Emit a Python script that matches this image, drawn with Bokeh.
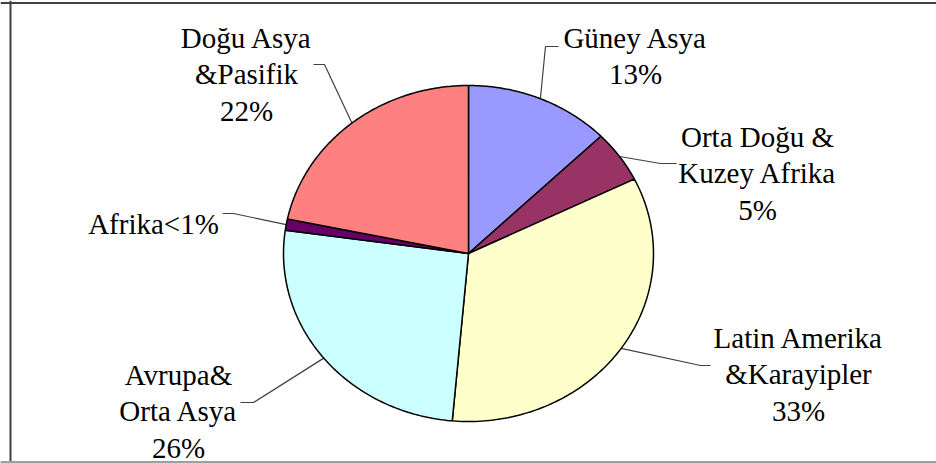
import numpy as np
from bokeh.plotting import figure
from bokeh.models import Range1d, Span, ColumnDataSource
from bokeh.core.properties import value
from bokeh.embed import file_html
from bokeh.resources import INLINE

# ---- data ----
regions = ["Güney Asya", "Orta Doğu & Kuzey Afrika", "Latin Amerika & Karayipler",
           "Avrupa & Orta Asya", "Afrika", "Doğu Asya & Pasifik"]
shares = [12.7, 5.0, 33.7, 25.8, 1.1, 21.7]
labels = ["Güney Asya\n13%", "Orta Doğu &\nKuzey Afrika\n5%", "Latin Amerika\n&Karayipler\n33%",
          "Avrupa&\nOrta Asya\n26%", "Afrika<1%", "Doğu Asya\n&Pasifik\n22%"]
colors = ["#9999FF", "#993366", "#FFFFCC", "#CCFFFF", "#660066", "#FF8080"]

# ---- layout (pixels, pie centre at 0,0) ----
RX, RY = 185.0, 168.0
label_pos = [(167, 216), (289, 117), (330, -84), (-290, -121), (-315, 30), (-222, 216)]
leader_pts = [[(77, 207), (90, 207)],
              [(192, 90), (208, 90)],
              [(232, -112), (242, -112)],
              [(-215, -149), (-228, -149)],
              [(-235, 40), (-246, 40)],
              [(-144, 189), (-155, 189)]]
LINE_H = 36.5

W, H = 936, 463
p = figure(width=W, height=H, x_range=Range1d(-468, 468), y_range=Range1d(-210, 253),
           output_backend="svg", toolbar_location=None, min_border=0)
p.axis.visible = False
p.grid.visible = False
p.outline_line_color = None
p.background_fill_color = "white"
p.border_fill_color = "white"

# frame lines
p.add_layout(Span(location=-458, dimension="height", line_color="#404040", line_width=2))
p.add_layout(Span(location=250.5, dimension="width", line_color="#404040", line_width=2))
p.add_layout(Span(location=-208.5, dimension="width", line_color="#a0a0a0", line_width=2))

total = float(sum(shares))
fr = np.cumsum([0.0] + shares) / total
xs, ys = [], []
mids = []
for i in range(len(shares)):
    a0 = np.pi / 2 - 2 * np.pi * fr[i]
    a1 = np.pi / 2 - 2 * np.pi * fr[i + 1]
    t = np.linspace(a0, a1, 120)
    xs.append([0.0] + list(RX * np.cos(t)))
    ys.append([0.0] + list(RY * np.sin(t)))
    am = (a0 + a1) / 2
    mids.append((RX * np.cos(am), RY * np.sin(am)))

# leader lines from slice middle to label
for (mx, my), pts in zip(mids, leader_pts):
    lx = [mx] + [q[0] for q in pts]
    ly = [my] + [q[1] for q in pts]
    p.line(lx, ly, line_color="#404040", line_width=1.2)

p.patches(xs, ys, fill_color=colors, line_color="black", line_width=1.5)

tx, ty, tt = [], [], []
for lab, (x, y) in zip(labels, label_pos):
    for j, line in enumerate(lab.split("\n")):
        tx.append(x)
        ty.append(y - j * LINE_H)
        tt.append(line)
src = ColumnDataSource(dict(x=tx, y=ty, text=tt))
p.text(x="x", y="y", text="text", source=src, text_align="center", text_baseline="alphabetic",
       text_font=value("Liberation Serif"), text_font_size="29px", text_color="#000000")

open("out.html", "w").write(file_html(p, INLINE))
